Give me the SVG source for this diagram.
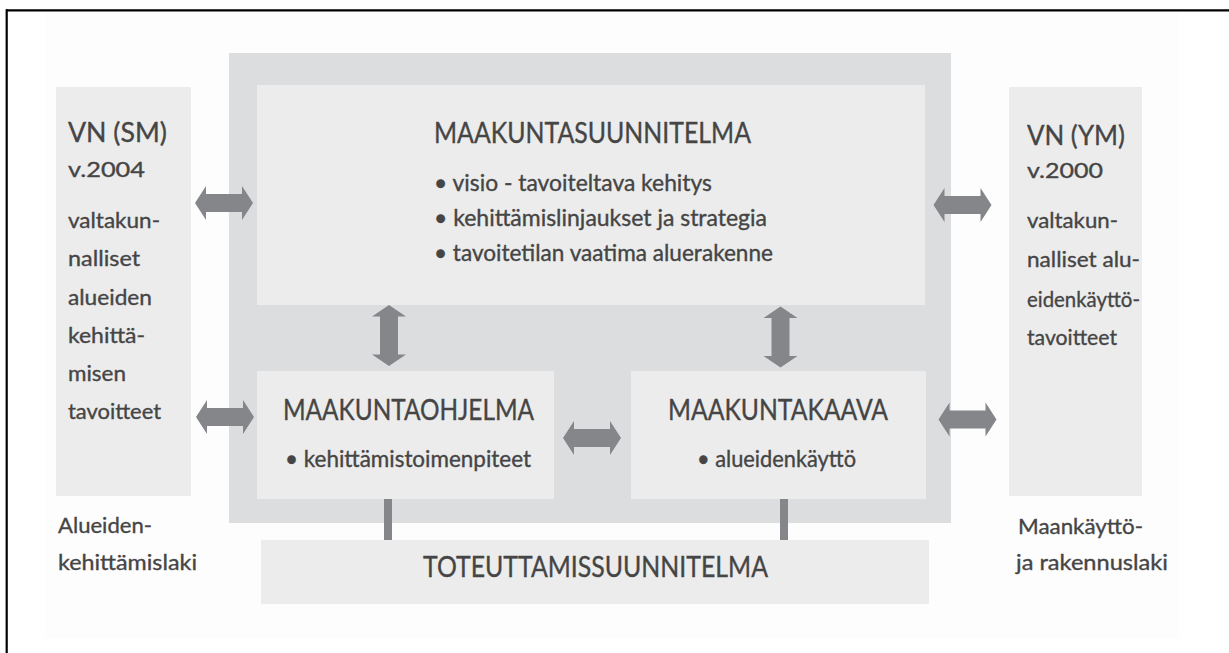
<svg xmlns="http://www.w3.org/2000/svg" xmlns:xlink="http://www.w3.org/1999/xlink" width="1229" height="653" viewBox="0 0 1229 653">
<style>
  .t { font-family: Lato, "Liberation Sans", sans-serif; fill: #454545; stroke: #454545; stroke-width: 0.35px; }
  .title { font-size: 28px; }
  .bul { font-size: 23px; }
  .side { font-size: 22px; }
  .head { font-size: 27px; }
  .box { fill: #ececec; }
  .arr { fill: #858689; }
</style>
<defs>
  <path id="harrow" d="M-29,0 L-18,-17 L-18,-9 L18,-9 L18,-17 L29,0 L18,17 L18,9 L-18,9 L-18,17 Z"/>
  <path id="varrow" d="M0,-30.5 L17,-19 L9,-19 L9,19 L17,19 L0,30.5 L-17,19 L-9,19 L-9,-19 L-17,-19 Z"/>
</defs>
<rect x="0" y="0" width="1229" height="653" fill="#ffffff"/>
<rect x="45" y="13" width="1134" height="625" fill="#fdfdfd"/>
<line x1="6" y1="10.3" x2="1229" y2="10.3" stroke="#000" stroke-width="2.2"/>
<line x1="6.7" y1="9.2" x2="6.7" y2="653" stroke="#000" stroke-width="2.2"/>

<g id="frame">
  <rect x="229" y="53" width="722" height="470" fill="#dcdddf"/>
</g>

<g id="maakuntasuunnitelma">
  <rect class="box" x="257" y="85" width="668" height="220"/>
  <text class="t title" x="434" y="143" textLength="317" lengthAdjust="spacingAndGlyphs">MAAKUNTASUUNNITELMA</text>
  <text class="t bul" x="434" y="191" textLength="278" lengthAdjust="spacingAndGlyphs">•  visio - tavoiteltava kehitys</text>
  <text class="t bul" x="434" y="226" textLength="333" lengthAdjust="spacingAndGlyphs">• kehittämislinjaukset ja strategia</text>
  <text class="t bul" x="434" y="261" textLength="339" lengthAdjust="spacingAndGlyphs">• tavoitetilan vaatima aluerakenne</text>
</g>

<g id="maakuntaohjelma">
  <rect class="box" x="257" y="371" width="297" height="128"/>
  <text class="t title" x="283" y="420" textLength="251" lengthAdjust="spacingAndGlyphs">MAAKUNTAOHJELMA</text>
  <text class="t bul" x="285" y="467" textLength="246" lengthAdjust="spacingAndGlyphs">• kehittämistoimenpiteet</text>
</g>

<g id="maakuntakaava">
  <rect class="box" x="631" y="371" width="295" height="128"/>
  <text class="t title" x="668" y="420" textLength="220" lengthAdjust="spacingAndGlyphs">MAAKUNTAKAAVA</text>
  <text class="t bul" x="697" y="467" textLength="159" lengthAdjust="spacingAndGlyphs">• alueidenkäyttö</text>
</g>

<g id="toteuttamissuunnitelma">
  <rect class="box" x="261" y="540" width="668" height="64"/>
  <text class="t title" x="423" y="577" textLength="345" lengthAdjust="spacingAndGlyphs">TOTEUTTAMISSUUNNITELMA</text>
</g>

<g id="vn-sm">
  <rect class="box" x="56" y="87" width="135" height="409"/>
  <text class="t head" x="68" y="142" textLength="99" lengthAdjust="spacingAndGlyphs">VN (SM)</text>
  <text class="t side" x="68" y="177" textLength="77" lengthAdjust="spacingAndGlyphs">v.2004</text>
  <text class="t side" x="68" y="228" textLength="92" lengthAdjust="spacingAndGlyphs">valtakun-</text>
  <text class="t side" x="68" y="266" textLength="72" lengthAdjust="spacingAndGlyphs">nalliset</text>
  <text class="t side" x="68" y="305" textLength="84" lengthAdjust="spacingAndGlyphs">alueiden</text>
  <text class="t side" x="68" y="343" textLength="77" lengthAdjust="spacingAndGlyphs">kehittä-</text>
  <text class="t side" x="68" y="381" textLength="58" lengthAdjust="spacingAndGlyphs">misen</text>
  <text class="t side" x="68" y="419" textLength="93" lengthAdjust="spacingAndGlyphs">tavoitteet</text>
</g>

<g id="vn-ym">
  <rect class="box" x="1009" y="87" width="133" height="409"/>
  <text class="t head" x="1027" y="145" textLength="98" lengthAdjust="spacingAndGlyphs">VN (YM)</text>
  <text class="t side" x="1027" y="178" textLength="76" lengthAdjust="spacingAndGlyphs">v.2000</text>
  <text class="t side" x="1027" y="228" textLength="91" lengthAdjust="spacingAndGlyphs">valtakun-</text>
  <text class="t side" x="1027" y="267" textLength="113" lengthAdjust="spacingAndGlyphs">nalliset alu-</text>
  <text class="t side" x="1027" y="307" textLength="113" lengthAdjust="spacingAndGlyphs">eidenkäyttö-</text>
  <text class="t side" x="1027" y="345" textLength="90" lengthAdjust="spacingAndGlyphs">tavoitteet</text>
</g>

<g id="law-left">
  <text class="t side" x="58" y="533" textLength="94" lengthAdjust="spacingAndGlyphs">Alueiden-</text>
  <text class="t side" x="58" y="570" textLength="139" lengthAdjust="spacingAndGlyphs">kehittämislaki</text>
</g>

<g id="law-right">
  <text class="t side" x="1018" y="534" textLength="125" lengthAdjust="spacingAndGlyphs">Maankäyttö-</text>
  <text class="t side" x="1016" y="570" textLength="152" lengthAdjust="spacingAndGlyphs">ja rakennuslaki</text>
</g>

<g id="connectors" class="arr">
  <use xlink:href="#harrow" href="#harrow" transform="translate(224,203)"/>
  <use xlink:href="#harrow" href="#harrow" transform="translate(225,417)"/>
  <use xlink:href="#harrow" href="#harrow" transform="translate(962.5,205)"/>
  <use xlink:href="#harrow" href="#harrow" transform="translate(967.5,419.5)"/>
  <use xlink:href="#harrow" href="#harrow" transform="translate(592,438)"/>
  <use xlink:href="#varrow" href="#varrow" transform="translate(389,335.5)"/>
  <use xlink:href="#varrow" href="#varrow" transform="translate(780.5,337)"/>
  <rect x="384" y="499" width="8" height="41"/>
  <rect x="780" y="499" width="8" height="41"/>
</g>
</svg>
